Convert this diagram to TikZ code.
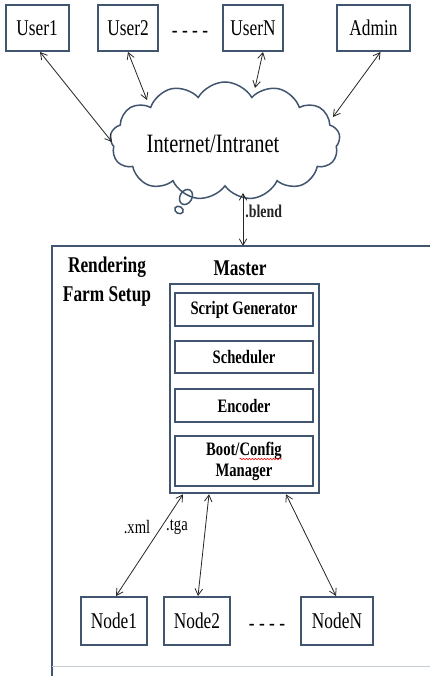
\documentclass[tikz,border=0pt]{standalone}
\usepackage{fontspec}
\setmainfont{Liberation Serif}[FakeStretch=0.77]
\usetikzlibrary{arrows.meta,shapes.symbols,decorations.pathmorphing}
\definecolor{edge}{HTML}{42556F}
\newlength\bootw
\newlength\cfgw
\begin{document}
\settowidth\bootw{\bfseries\fontsize{19}{21}\selectfont Boot/Config}
\settowidth\cfgw{\bfseries\fontsize{19}{21}\selectfont Config}
\begin{tikzpicture}[x=1pt,y=-1pt,
  box/.style={draw=edge,line width=2pt,fill=white,inner sep=0pt,font=\fontsize{22.5}{26}\selectfont},
  inbox/.style={draw=edge,line width=2pt,fill=white,minimum width=138pt,inner sep=0pt,align=center,font=\bfseries\fontsize{19}{21}\selectfont},
  link/.style={{Straight Barb[length=6.5pt,width=7.5pt]}-{Straight Barb[length=6.5pt,width=7.5pt]},line width=0.8pt,black!85},
  plain/.style={inner sep=0pt,font=\fontsize{22.5}{26}\selectfont},
  boldlbl/.style={inner sep=0pt,align=center,font=\bfseries\fontsize{22.5}{29}\selectfont},
  small/.style={inner sep=0pt,font=\fontsize{19}{21}\selectfont},
]
\useasboundingbox (0,0) rectangle (430,676);
\fill[white] (0,0) rectangle (430,676);

% users
\node[box,minimum width=63pt,minimum height=46pt] (u1) at (37,28) {User1};
\node[box,minimum width=60pt,minimum height=46pt] (u2) at (128,28) {User2};
\node[plain] (udots) at (190,34) {- - - -};
\node[box,minimum width=60pt,minimum height=46pt] (uN) at (253,28) {UserN};
\node[box,minimum width=73pt,minimum height=46pt] (adm) at (373.5,28) {Admin};

% cloud
\node[cloud,draw=edge,line width=1.5pt,cloud puffs=13,cloud puff arc=120,aspect=2,
      minimum width=230pt,minimum height=118pt,inner sep=0pt] (net) at (225,141) {};
\node[inner sep=0pt,font=\fontsize{26.5}{30}\selectfont] (nettext) at (213,144) {Internet/Intranet};
\draw[edge,line width=1.5pt] (186,197) ellipse [x radius=6pt,y radius=8pt,rotate=-30];
\draw[edge,line width=1.5pt] (179,210) ellipse [x radius=4.5pt,y radius=3.5pt,rotate=-30];

\coordinate (c1) at (112,142);
\coordinate (c2) at (147,100);
\coordinate (c3) at (255,88);
\coordinate (c4) at (333,117);
\coordinate (c5) at (243,193);
\coordinate (farmtop) at (243,246);

\draw[link] ([xshift=3pt]u1.south) -- (c1);
\draw[link] (u2.south) -- (c2);
\draw[link] ([xshift=10pt]uN.south) -- (c3);
\draw[link] ([xshift=7pt]adm.south) -- (c4);
\draw[link] (c5) -- (farmtop) node[pos=0.35,right=2pt,inner sep=0pt,font=\bfseries\fontsize{18}{20}\selectfont] (blend) {.blend};

% farm frame
\draw[edge,line width=2pt] (430,246) -- (52,246) -- (52,676);
\draw[edge!30,line width=1pt] (52,666) -- (430,666);

\node[boldlbl] (farm) at (107,282) {Rendering\\Farm Setup};
\node[boldlbl] (mtitle) at (240,268) {Master};

% master
\node[draw=edge,line width=2.5pt,minimum width=149pt,minimum height=209pt,inner sep=0pt] (master) at (244.5,388.5) {};
\node[inbox,minimum height=33pt] (sg) at (244,309.5) {Script Generator};
\node[inbox,minimum height=32pt] (sch) at (244,357) {Scheduler};
\node[inbox,minimum height=33pt] (enc) at (244,405.5) {Encoder};
\node[inbox,minimum height=50pt] (boot) at (244,461) {Boot/Config\\Manager};
\draw[red,line width=0.6pt,decorate,decoration={snake,amplitude=0.8pt,segment length=3pt}]
  ([xshift={0.5*\bootw-\cfgw}]244,459) -- ([xshift={0.5*\bootw}]244,459);

% render nodes
\node[box,minimum width=66pt,minimum height=48pt] (n1) at (114,621) {Node1};
\node[box,minimum width=66pt,minimum height=48pt] (n2) at (197,621) {Node2};
\node[plain] (ndots) at (267,627) {- - - -};
\node[box,minimum width=72pt,minimum height=48pt] (nN) at (337,621) {NodeN};

\draw[link] ([xshift=2pt]n1.north) -- ([xshift=-61.5pt]master.south);
\draw[link] ([xshift=1pt]n2.north) -- ([xshift=-35.5pt]master.south);
\draw[link] ([xshift=-1pt]nN.north) -- ([xshift=41.5pt]master.south);

\node[small] (xml) at (137,527) {.xml};
\node[small] (tga) at (177,527) {.tga};
\end{tikzpicture}
\end{document}
